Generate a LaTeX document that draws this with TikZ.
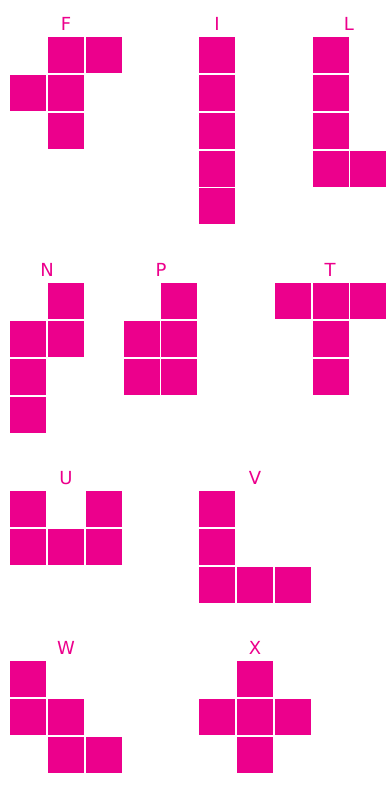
\documentclass[tikz,border=0pt]{standalone}
\usepackage{fontspec}
\setmainfont{DejaVu Sans}
\usetikzlibrary{positioning}
\definecolor{pentapink}{HTML}{EC008C}

\begin{document}
\begin{tikzpicture}[x=1pt, y=-1pt,
  cell/.style={fill=pentapink, draw=none, minimum size=36pt, inner sep=0pt,
    anchor=north west},
  tag/.style={text=pentapink, font=\fontsize{18}{18}\selectfont, inner sep=0pt,
    anchor=base}
]
\useasboundingbox (0,0) rectangle (386,809);
% first row: F, I, L
\foreach \c/\r [count=\i] in {1/0,2/0,0/1,1/1,1/2}
  \node[cell] (F\i) at ({10+37.8*\c},{37+37.8*\r}) {};
\foreach \c/\r [count=\i] in {5/0,5/1,5/2,5/3,5/4}
  \node[cell] (I\i) at ({10+37.8*\c},{37+37.8*\r}) {};
\foreach \c/\r [count=\i] in {8/0,8/1,8/2,8/3,9/3}
  \node[cell] (L\i) at ({10+37.8*\c},{37+37.8*\r}) {};
\node[tag] (tF) at (66,30) {F};
\node[tag] (tI) at (217,30) {I};
\node[tag] (tL) at (349,30) {L};
% second row: N, P, T
\foreach \c/\r [count=\i] in {1/0,0/1,1/1,0/2,0/3}
  \node[cell] (N\i) at ({10+37.8*\c},{283+37.8*\r}) {};
\foreach \c/\r [count=\i] in {4/0,3/1,4/1,3/2,4/2}
  \node[cell] (P\i) at ({10+37.8*\c},{283+37.8*\r}) {};
\foreach \c/\r [count=\i] in {7/0,8/0,9/0,8/1,8/2}
  \node[cell] (T\i) at ({10+37.8*\c},{283+37.8*\r}) {};
\node[tag] (tN) at (47,276) {N};
\node[tag] (tP) at (161,276) {P};
\node[tag] (tT) at (330,276) {T};
% third row: U, V
\foreach \c/\r [count=\i] in {0/0,2/0,0/1,1/1,2/1}
  \node[cell] (U\i) at ({10+37.8*\c},{491+37.8*\r}) {};
\foreach \c/\r [count=\i] in {5/0,5/1,5/2,6/2,7/2}
  \node[cell] (V\i) at ({10+37.8*\c},{491+37.8*\r}) {};
\node[tag] (tU) at (66,484) {U};
\node[tag] (tV) at (255,484) {V};
% fourth row: W, X
\foreach \c/\r [count=\i] in {0/0,0/1,1/1,1/2,2/2}
  \node[cell] (W\i) at ({10+37.8*\c},{661+37.8*\r}) {};
\foreach \c/\r [count=\i] in {6/0,5/1,6/1,7/1,6/2}
  \node[cell] (X\i) at ({10+37.8*\c},{661+37.8*\r}) {};
\node[tag] (tW) at (66,654) {W};
\node[tag] (tX) at (255,654) {X};
\end{tikzpicture}
\end{document}
